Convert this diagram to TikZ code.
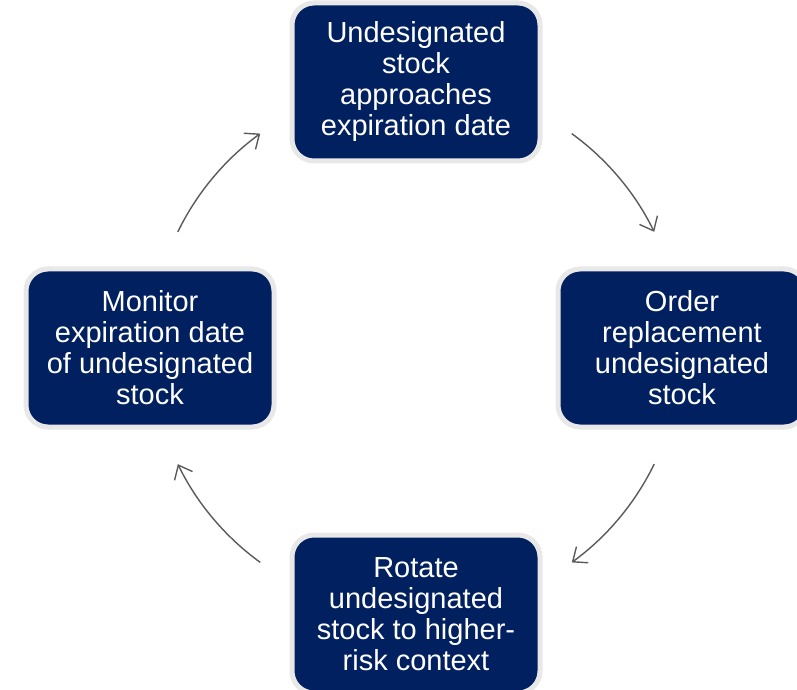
\documentclass[tikz,border=0pt]{standalone}
\usepackage{fontspec}
\setmainfont{Liberation Sans}
\usetikzlibrary{arrows.meta}

\definecolor{navy}{RGB}{0,32,96}
\definecolor{rim}{RGB}{232,232,232}
\definecolor{arrowgray}{RGB}{90,90,90}

\begin{document}
\begin{tikzpicture}[x=1pt,y=1pt,
  stagebox/.style={draw=rim, line width=5pt, fill=navy, rounded corners=22pt,
    minimum width=248pt, minimum height=158pt, align=center, text=white,
    font=\fontsize{29}{31}\selectfont, inner sep=0pt},
  cyclearrow/.style={draw=arrowgray, line width=1.4pt,
    -{Straight Barb[length=12pt,width=20pt]}}]

\useasboundingbox (0,0) rectangle (797,689);
%\draw (0,0) rectangle (797,689);

\coordinate (hub) at (416,341);

\node[stagebox] (expiry)  at (416,607) {Undesignated\\stock\\approaches\\expiration date};
\node[stagebox] (reorder) at (682,341) {Order\\replacement\\undesignated\\stock};
\node[stagebox] (rotate)  at (416,75)  {Rotate\\undesignated\\stock to higher-\\risk context};
\node[stagebox] (monitor) at (150,341) {Monitor\\expiration date\\of undesignated\\stock};

% arcs round the hub, clockwise
 \foreach \a/\n in {54/a,-26/b,234/c,154/d}{%
    \coordinate (tail\n) at ([shift={(\a:265)}]hub);
    \draw[cyclearrow] (tail\n) arc[start angle=\a, delta angle=-28, radius=265];
  }

%\draw[red] (hub) circle (265);

\end{tikzpicture}
\end{document}
